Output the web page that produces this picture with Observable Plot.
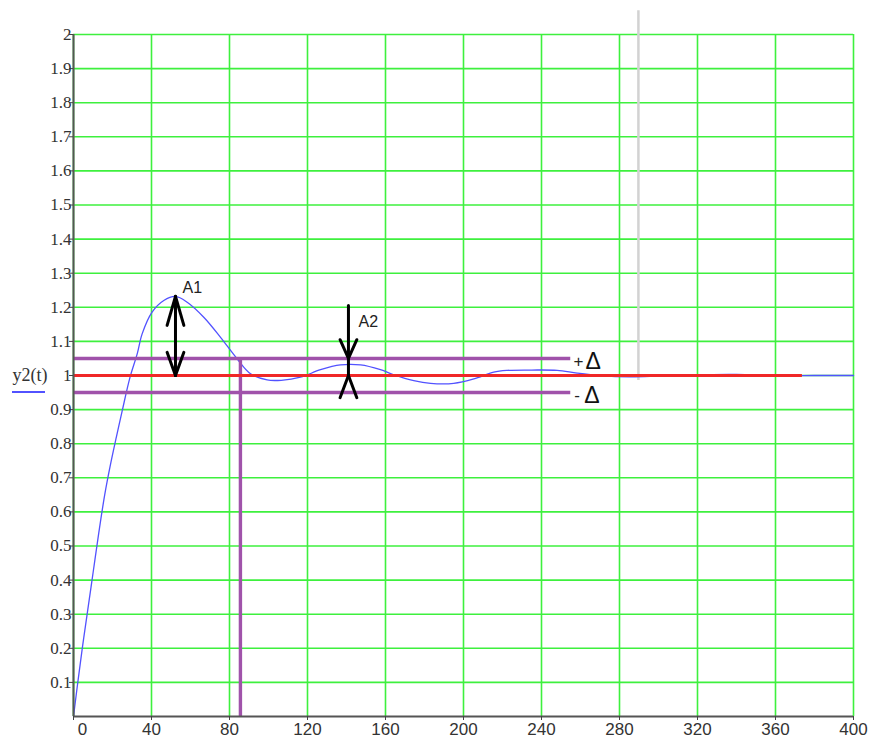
<!DOCTYPE html>
<html>
<head>
<meta charset="utf-8">
<script src="https://cdn.jsdelivr.net/npm/d3@7"></script>
<script src="https://cdn.jsdelivr.net/npm/@observablehq/plot@0.6"></script>
<style>
  body { margin: 0; background: #fff; }
  #chart svg { display: block; }
</style>
</head>
<body>
<div id="chart"></div>
<script>
// Step response y2(t) of the closed loop
const times = [0, 2.2, 4.5, 7, 10, 13, 16, 19, 22, 25, 29, 32.7, 35.2, 40.3, 46.3, 52.3, 58.3, 66.8, 75.4, 83.9, 90.8, 99.3, 106.5, 116.4, 126.7, 136.9, 147.2, 157.4, 164.3, 174.5, 183.1, 195, 205.3, 215.5, 222.4, 235, 248, 258.3, 270, 285, 300, 320, 340, 360, 380, 400];
const response = [0, 0.1, 0.2, 0.3, 0.42, 0.54, 0.65, 0.74, 0.82, 0.897, 0.995, 1.064, 1.122, 1.186, 1.22, 1.232, 1.215, 1.171, 1.112, 1.049, 1.005, 0.987, 0.986, 0.995, 1.017, 1.031, 1.031, 1.017, 1.002, 0.985, 0.977, 0.977, 0.99, 1.01, 1.015, 1.016, 1.015, 1.007, 1.0, 0.996, 0.998, 1.002, 1.003, 1.0, 1.0, 1.0];

// Axis ticks
const xTicks = [0, 40, 80, 120, 160, 200, 240, 280, 320, 360, 400];
const yTicks = [0.1, 0.2, 0.3, 0.4, 0.5, 0.6, 0.7, 0.8, 0.9, 1, 1.1, 1.2, 1.3, 1.4, 1.5, 1.6, 1.7, 1.8, 1.9, 2];

// Steady state, tolerance band and settling time
const setpoint = 1.0;
const setpointEnd = 373.8;
const bandLevels = [1.05, 0.95];
const bandEnd = 255;
const settlingTime = 85.6;

// Cursor line
const cursorT = 289.7;
const cursorRange = [0.985, 2.07];

// Overshoot amplitudes A1, A2
const amplitudes = [
  {name: "A1", t: 52.3, top: 1.232, bottom: 1.0, labelT: 55.9, labelY: 1.258},
  {name: "A2", t: 141.0, top: 1.205, bottom: 1.0, mid: 1.05, labelT: 146.2, labelY: 1.158}
];

// Tolerance band labels
const bandLabels = [
  {sign: "+", t: 256.4, y: 1.04, gap: 12},
  {sign: "-", t: 256.8, y: 0.942, gap: 10}
];

const data = times.map((t, i) => ({t, y: response[i]}));

// Arrow segments built from the amplitude tips (open chevron heads)
const headW = 4.3;
function head(t, y, dir, len) {
  // dir = +1: head points up (legs go down); -1: head points down
  return [
    {x1: t, y1: y, x2: t - headW, y2: y - dir * len},
    {x1: t, y1: y, x2: t + headW, y2: y - dir * len}
  ];
}
const a1 = amplitudes[0], a2 = amplitudes[1];
const arrowSegments = [
  {x1: a1.t, y1: a1.bottom, x2: a1.t, y2: a1.top},
  ...head(a1.t, a1.top, +1, 0.085),
  ...head(a1.t, a1.bottom, -1, 0.068),
  {x1: a2.t, y1: a2.top, x2: a2.t, y2: a2.bottom},
  ...head(a2.t, a2.mid, -1, 0.055),
  ...head(a2.t, a2.bottom, +1, 0.065)
];

const green = "#3ef03e";
const purple = "#a052aa";
const sans = "Liberation Sans, Arial, sans-serif";
const serif = "Liberation Serif, Times New Roman, serif";

const chart = Plot.plot({
  width: 872,
  height: 740,
  marginLeft: 73,
  marginRight: 19,
  marginTop: 34,
  marginBottom: 24,
  style: {background: "#fff"},
  x: {domain: [0, 400], label: null},
  y: {domain: [0, 2], label: null},
  marks: [
    Plot.gridX(xTicks, {stroke: green, strokeOpacity: 1, strokeWidth: 1.6}),
    Plot.gridY(yTicks, {stroke: green, strokeOpacity: 1, strokeWidth: 1.6}),
    Plot.ruleX([cursorT], {y1: cursorRange[0], y2: cursorRange[1], stroke: "#d2d2d2", strokeWidth: 2.5}),
    Plot.line(data, {x: "t", y: "y", stroke: "#5252ff", strokeWidth: 1.3, curve: "catmull-rom"}),
    Plot.ruleY(bandLevels, {x1: 0, x2: bandEnd, stroke: purple, strokeWidth: 3.4}),
    Plot.ruleX([settlingTime], {y1: 0, y2: bandLevels[0], stroke: purple, strokeWidth: 3.4}),
    Plot.ruleY([setpoint], {x1: 0, x2: setpointEnd, stroke: "#f02828", strokeWidth: 3.2}),
    Plot.link(arrowSegments, {x1: "x1", y1: "y1", x2: "x2", y2: "y2", stroke: "#000", strokeWidth: 3, strokeLinecap: "round"}),
    Plot.text(amplitudes, {x: "labelT", y: "labelY", text: "name", textAnchor: "start", fontSize: 16, fontFamily: sans, fill: "#222"}),
    Plot.text(bandLabels, {x: "t", y: "y", text: "sign", textAnchor: "start", fontSize: 17, fontFamily: sans, fill: "#222"}),
    Plot.text(bandLabels.slice(0, 1), {x: "t", y: "y", text: () => "Δ", dx: 12, textAnchor: "start", fontSize: 23, fontFamily: sans, fill: "#111"}),
    Plot.text(bandLabels.slice(1), {x: "t", y: "y", text: () => "Δ", dx: 10, textAnchor: "start", fontSize: 23, fontFamily: sans, fill: "#111"}),
    Plot.ruleX([0], {stroke: "#555", strokeWidth: 2}),
    Plot.ruleY([0], {stroke: "#555", strokeWidth: 2}),
    // y ticks with serif labels drawn as a separate text mark
    Plot.axisY(yTicks, {tickSize: 4, stroke: "#444", label: null, tickFormat: () => ""}),
    Plot.text(yTicks, {y: d => d, frameAnchor: "left", dx: -2, textAnchor: "end", text: d => String(+d.toFixed(1)), fontSize: 17, fontFamily: serif, fill: "#333"}),
    Plot.axisX(xTicks, {tickSize: 4, tickPadding: 2, fontSize: 17, fontFamily: sans, stroke: "#444", fill: "#333", label: null, tickFormat: d => d === 0 ? "" : String(d)}),
    Plot.axisX([0], {tickSize: 0, tickPadding: 6, dx: 9, fontSize: 17, fontFamily: sans, fill: "#333", label: null}),
    Plot.text(["y2(t)"], {frameAnchor: "left", dx: -61, textAnchor: "start", fontSize: 18, fontFamily: serif, fill: "#333"})
  ]
});

// Legend swatch under the series name
d3.select(chart).append("line")
  .attr("x1", 12).attr("x2", 45)
  .attr("y1", 392).attr("y2", 392)
  .attr("stroke", "#5252ff").attr("stroke-width", 2);

document.getElementById("chart").appendChild(chart);
</script>
</body>
</html>
